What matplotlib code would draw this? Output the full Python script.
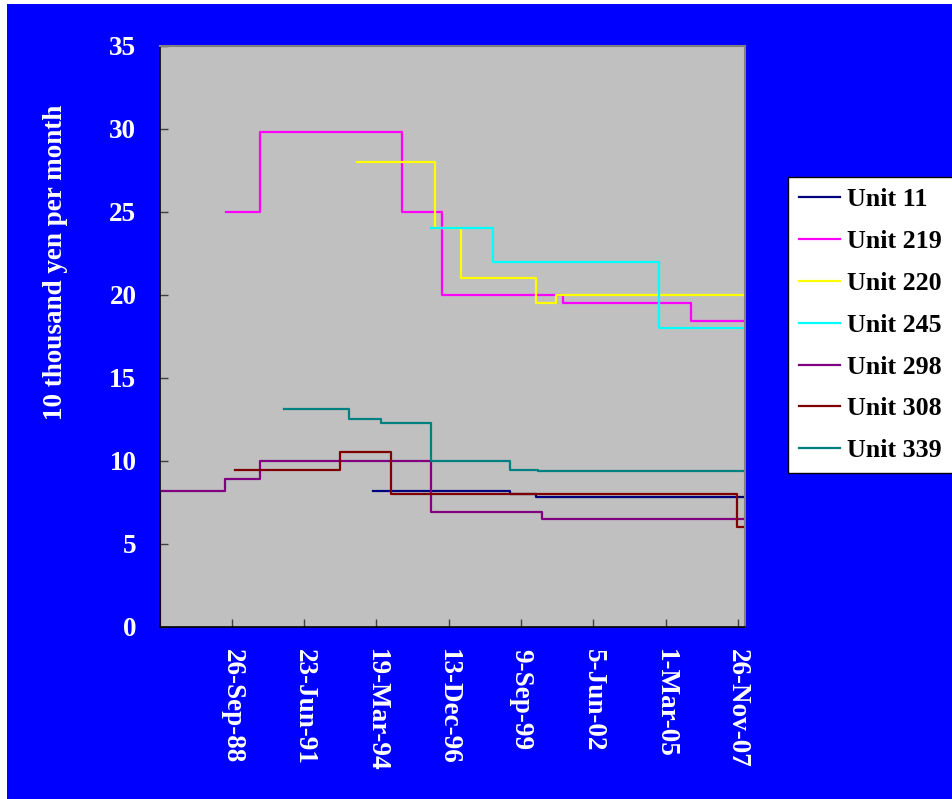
import matplotlib
matplotlib.use("Agg")
import matplotlib.pyplot as plt
import matplotlib.dates as mdates
from matplotlib.patches import Rectangle
from datetime import datetime

plt.rcParams['font.family'] = ['Liberation Serif', 'DejaVu Serif']

# ---- data ----
units = ["Unit 11", "Unit 219", "Unit 220", "Unit 245", "Unit 298", "Unit 308", "Unit 339"]
colors = ["#000080", "#FF00FF", "#FFFF00", "#00FFFF", "#800080", "#800000", "#008080"]

end_date = "2008-03-05"

u11_dates = ["1994-02-06", "1999-04-11", "2000-04-08", end_date]
u11_vals = [8.2, 8.0, 7.8, 7.8]

u219_dates = ["1988-07-09", "1989-10-18", "1995-03-05", "1996-09-09", "2001-04-10", "2006-02-17", end_date]
u219_vals = [25.0, 29.8, 25.0, 20.0, 19.5, 18.4, 18.4]

u220_dates = ["1993-06-29", "1996-06-08", "1997-06-03", "2000-04-10", "2001-01-03", end_date]
u220_vals = [28.0, 24.0, 21.0, 19.5, 20.0, 20.0]

u245_dates = ["1996-04-17", "1998-08-15", "2004-12-05", end_date]
u245_vals = [24.0, 22.0, 18.0, 18.0]

u298_dates = ["1986-01-05", "1986-01-05", "1988-06-16", "1989-10-18", "1996-04-15", "2000-06-24", end_date]
u298_vals = [0.0, 8.2, 8.9, 10.0, 6.9, 6.5, 6.5]

u308_dates = ["1988-11-06", "1992-11-02", "1994-10-09", "2007-11-22", end_date]
u308_vals = [9.45, 10.5, 8.0, 6.0, 6.0]

u339_dates = ["1990-09-15", "1993-03-07", "1994-05-19", "1996-04-17", "1999-04-11", "2000-05-08", end_date]
u339_vals = [13.1, 12.5, 12.3, 10.0, 9.45, 9.35, 9.35]

series_dates = [u11_dates, u219_dates, u220_dates, u245_dates, u298_dates, u308_dates, u339_dates]
series_vals = [u11_vals, u219_vals, u220_vals, u245_vals, u298_vals, u308_vals, u339_vals]

xtick_labels = ["26-Sep-88", "23-Jun-91", "19-Mar-94", "13-Dec-96", "9-Sep-99", "5-Jun-02", "1-Mar-05", "26-Nov-07"]
yticks = [0, 5, 10, 15, 20, 25, 30, 35]
x_range = ["1986-01-05", end_date]
y_label = "10 thousand yen per month"

# ---- figure ----
W, H = 952, 799
fig = plt.figure(figsize=(W / 100, H / 100), dpi=100, facecolor="white")
fig.patches.append(Rectangle((7 / W, 0), 1 - 7 / W, 1 - 4 / H, transform=fig.transFigure,
                             facecolor="#0000FF", edgecolor="none", zorder=-10))

ax = fig.add_axes([160 / W, 1 - 626.7 / H, (745 - 160) / W, (626.7 - 45.7) / H])
ax.set_facecolor("#C0C0C0")

to_dt = lambda s: datetime.strptime(s, "%Y-%m-%d")
for name, col, ds, vs in zip(units, colors, series_dates, series_vals):
    ax.step([to_dt(d) for d in ds], vs, where="post", color=col, lw=1.6, label=name, clip_on=True)

ax.set_xlim(to_dt(x_range[0]), to_dt(x_range[1]))
ax.set_ylim(0, 35)

xt = [datetime.strptime(s, "%d-%b-%y") for s in xtick_labels]
ax.set_xticks(xt)
ax.set_xticklabels(xtick_labels, rotation=270, color="white", fontsize=19.5, fontweight="bold",
                   ha="center", va="top")
ax.set_yticks(yticks)
ax.set_yticklabels([str(v) for v in yticks], color="white", fontsize=19.5, fontweight="bold")
ax.tick_params(axis="x", direction="in", length=6, width=1, color="#404040", pad=16)
ax.tick_params(axis="y", direction="in", length=6, width=1, color="#404040", pad=17)

for s in ["left", "bottom"]:
    ax.spines[s].set_color("black")
    ax.spines[s].set_linewidth(1.2)
for s in ["right", "top"]:
    ax.spines[s].set_color("#808080")
    ax.spines[s].set_linewidth(1.5)

fig.text(56 / W, 1 - 420 / H, y_label, rotation=90, color="white", fontsize=19.5,
         fontweight="bold", ha="center", va="bottom")

leg = ax.legend(loc="upper left", bbox_to_anchor=(788 / W, 1 - 177 / H),
                bbox_transform=fig.transFigure, frameon=True, fancybox=False,
                prop={"size": 18.7, "weight": "bold"}, handlelength=1.6, handletextpad=0.25,
                labelspacing=0.72, borderpad=0.42, borderaxespad=0)
leg.get_frame().set_edgecolor("black")
leg.get_frame().set_facecolor("white")
leg.get_frame().set_linewidth(1.0)
leg.get_frame().set_alpha(1)

fig.savefig("out.png", dpi=100, facecolor=fig.get_facecolor())
